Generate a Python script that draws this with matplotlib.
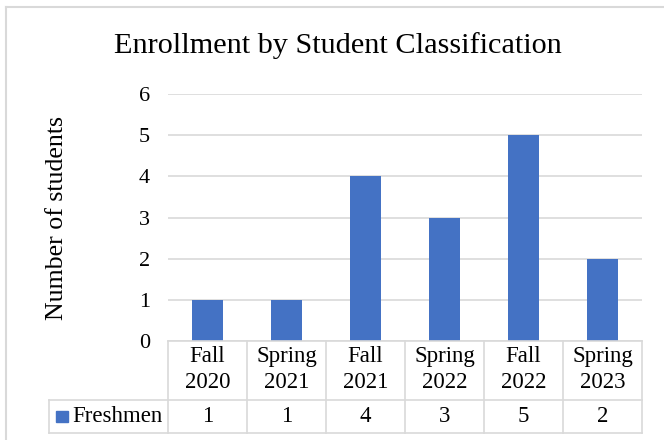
import matplotlib
matplotlib.use("Agg")
import matplotlib.pyplot as plt
import matplotlib.transforms as mtransforms
from matplotlib.lines import Line2D
from matplotlib.patches import Rectangle
import numpy as np

# data
terms = ["Fall\n2020", "Spring\n2021", "Fall\n2021", "Spring\n2022", "Fall\n2022", "Spring\n2023"]
freshmen = [1, 1, 4, 3, 5, 2]
series_name = "Freshmen"
yticks = [0, 1, 2, 3, 4, 5, 6]

bar_color = "#4472C4"
line_color = "#D9D9D9"
plt.rcParams['font.family'] = ['Liberation Serif', 'DejaVu Serif']

fig = plt.figure(figsize=(6.64, 4.40), dpi=100)
W, H = 664, 440
ax = fig.add_axes([168 / W, (H - 341) / H, 474 / W, 247 / H])

x = np.arange(len(terms)) + 0.5
ax.bar(x, freshmen, width=0.4, color=bar_color, zorder=3)
ax.set_xlim(0, len(terms))
ax.set_ylim(0, 6)
ax.set_yticks(yticks)
ax.set_yticklabels([str(t) for t in yticks], fontsize=16)
ax.tick_params(axis='y', length=0, pad=13)
ax.set_xticks([])
ax.grid(axis='y', color=line_color, linewidth=1.2, zorder=0)
for s in ax.spines.values():
    s.set_visible(False)
ax.axhline(0, color=line_color, linewidth=1.2, zorder=4, clip_on=False)
ax.set_ylabel("Number of students", fontsize=18.6)
ax.yaxis.set_label_coords(-100 / 474, 0.5)
fig.text(338 / W, 1 - 46 / H, "Enrollment by Student Classification",
         fontsize=21.8, ha='center', va='center')

# data table under the plot
tr = mtransforms.blended_transform_factory(ax.transData, ax.transAxes)
hdr_bot = -(400 - 341) / 247
row_bot = -(433 - 341) / 247
lab_left = -119 / 79
n = len(terms)
kw = dict(color=line_color, linewidth=1.2, transform=tr, clip_on=False)
for i in range(n + 1):
    ax.add_line(Line2D([i, i], [0, row_bot], **kw))
ax.add_line(Line2D([lab_left, n], [hdr_bot, hdr_bot], **kw))
ax.add_line(Line2D([lab_left, n], [row_bot, row_bot], **kw))
ax.add_line(Line2D([lab_left, lab_left], [hdr_bot, row_bot], **kw))

for i, (t, v) in enumerate(zip(terms, freshmen)):
    ax.text(x[i], hdr_bot / 2 + 0.004, t, transform=tr, ha='center', va='center',
            fontsize=16.5, linespacing=1.3)
    ax.text(x[i], (hdr_bot + row_bot) / 2, str(v), transform=tr,
            ha='center', va='center', fontsize=16.5)

ax.add_patch(Rectangle((lab_left + 7 / 79, (row_bot + hdr_bot) / 2 - 0.023),
                       12 / 79, 0.046, transform=tr, color=bar_color, clip_on=False))
ax.text(lab_left + 23 / 79, (hdr_bot + row_bot) / 2, series_name, transform=tr,
        ha='left', va='center', fontsize=16.5)

# chart frame (only top and left edges visible)
fig.add_artist(Line2D([6 / W, 1], [1 - 7 / H, 1 - 7 / H], color=line_color,
                      linewidth=1.5, transform=fig.transFigure))
fig.add_artist(Line2D([6 / W, 6 / W], [0, 1 - 7 / H], color=line_color,
                      linewidth=1.5, transform=fig.transFigure))

fig.savefig("out.png", dpi=100)
